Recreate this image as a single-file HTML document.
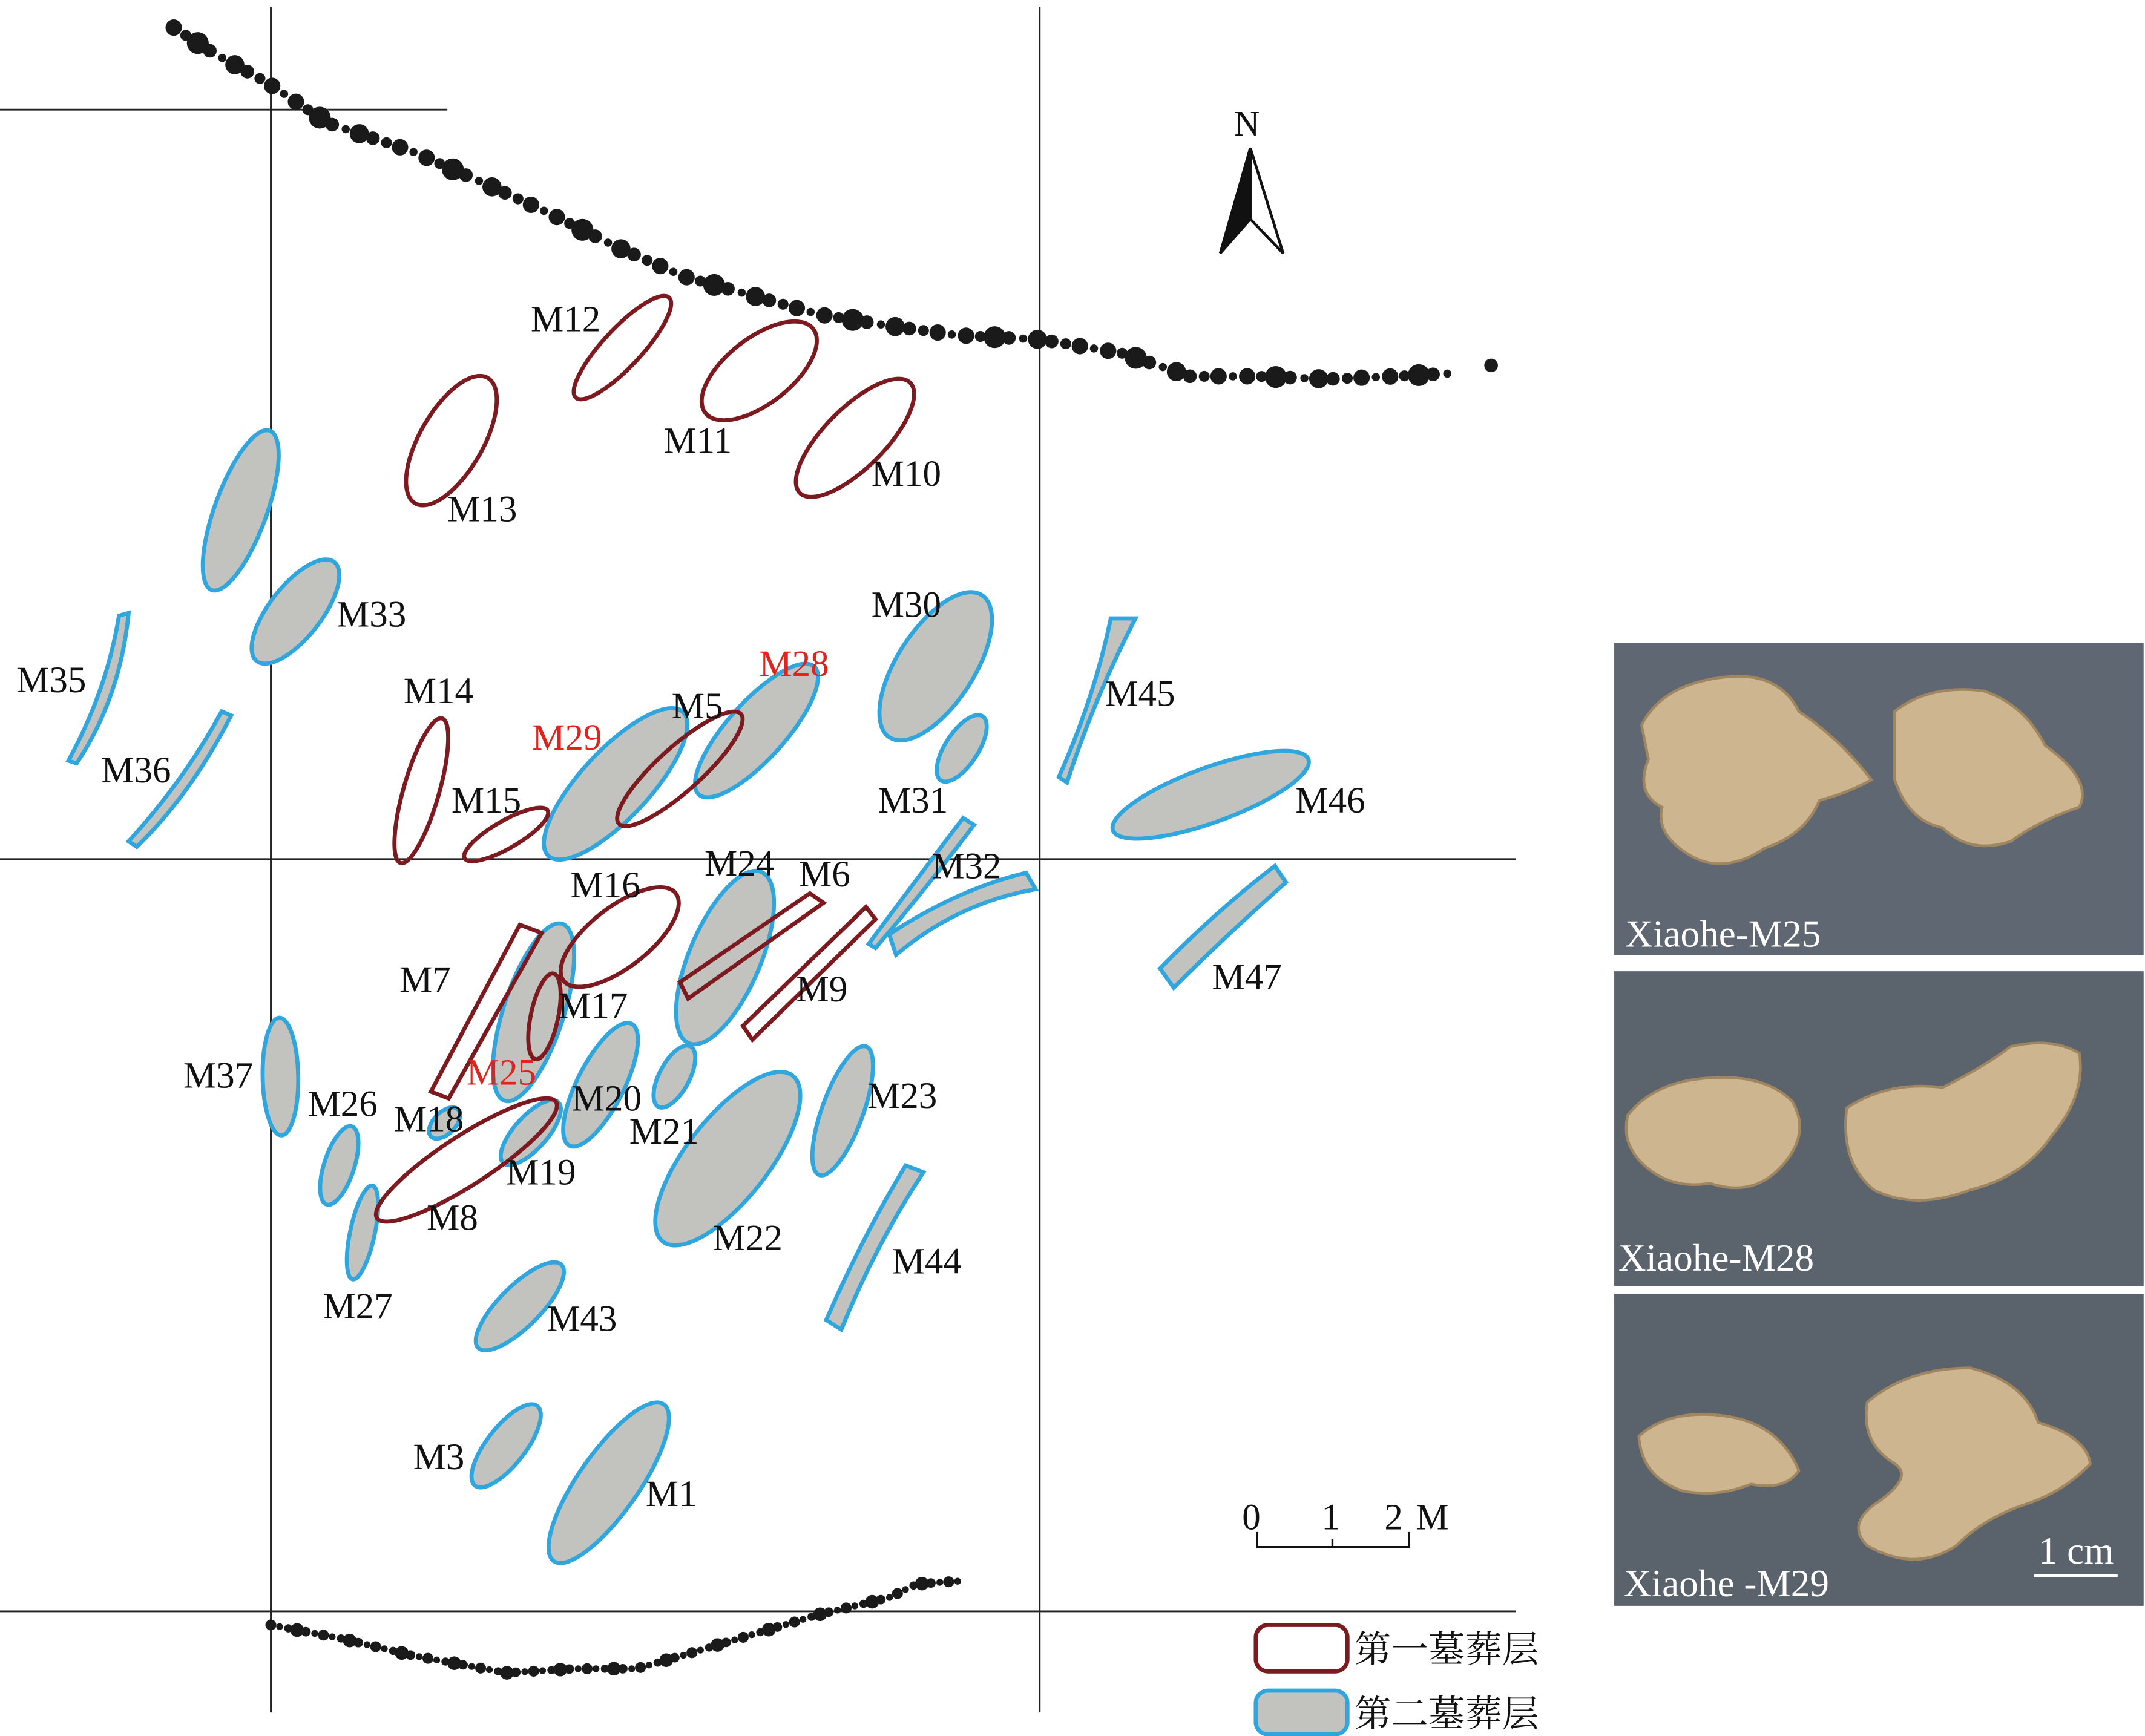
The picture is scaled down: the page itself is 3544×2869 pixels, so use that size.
<!DOCTYPE html>
<html><head><meta charset="utf-8"><style>
html,body{margin:0;padding:0;background:#fff}
svg{display:block}
text{font-family:"Liberation Serif","Noto Serif CJK SC",serif;font-size:27px;fill:#111}
.r{fill:none;stroke:#7d1a1f;stroke-width:3}
.b{fill:#c2c3be;stroke:#2fa6de;stroke-width:3}
.red{fill:#e0231c}
.w{fill:#fff;font-size:28px}
</style></head><body>
<svg width="3544" height="2869" viewBox="0 0 1568 1269" xmlns="http://www.w3.org/2000/svg">
<g stroke="#222" stroke-width="1.3">
<line x1="198" y1="5" x2="198" y2="1252"/><line x1="760" y1="5" x2="760" y2="1252"/>
<line x1="0" y1="80" x2="327" y2="80"/><line x1="0" y1="628" x2="1108" y2="628"/><line x1="0" y1="1178" x2="1108" y2="1178"/>
</g>
<g id="dots" fill="#1a1a1a"></g>
<!-- first layer & second layer -->
<ellipse class="b" cx="176" cy="373" rx="62" ry="19" transform="rotate(-70 176 373)"/>
<ellipse class="b" cx="216" cy="447" rx="46" ry="19" transform="rotate(-52 216 447)"/>
<path class="b" d="M50,556 Q78,505 87,450 L94,448 Q88,510 56,558 Z"/>
<path class="b" d="M94,615 Q135,570 162,520 L169,523 Q140,580 100,619 Z"/>
<ellipse class="b" cx="450" cy="573" rx="72" ry="25" transform="rotate(-47 450 573)"/>
<ellipse class="b" cx="553" cy="534" rx="63" ry="21" transform="rotate(-48 553 534)"/>
<ellipse class="b" cx="684" cy="487" rx="62" ry="28" transform="rotate(-57 684 487)"/>
<ellipse class="b" cx="703" cy="547" rx="28" ry="12" transform="rotate(-57 703 547)"/>
<path class="b" d="M774,568 Q800,510 812,452 L830,452 Q800,510 780,572 Z"/>
<ellipse class="b" cx="885" cy="581" rx="76" ry="20" transform="rotate(-20 885 581)"/>
<path class="b" d="M635,690 Q672,640 704,598 L712,603 Q675,652 640,693 Z"/>
<path class="b" d="M650,683 Q700,650 750,638 L757,650 Q700,660 655,698 Z"/>
<path class="b" d="M848,708 Q890,665 932,633 L940,645 Q895,685 858,722 Z"/>
<ellipse class="b" cx="530" cy="700" rx="68" ry="26" transform="rotate(-67 530 700)"/>
<ellipse class="b" cx="390" cy="740" rx="68" ry="22" transform="rotate(-72 390 740)"/>
<ellipse class="b" cx="439" cy="793" rx="50" ry="17" transform="rotate(-63 439 793)"/>
<ellipse class="b" cx="493" cy="787" rx="25" ry="11" transform="rotate(-62 493 787)"/>
<ellipse class="b" cx="205" cy="787" rx="43" ry="13" transform="rotate(-91 205 787)"/>
<ellipse class="b" cx="325" cy="821" rx="14" ry="8" transform="rotate(-45 325 821)"/>
<ellipse class="b" cx="388" cy="828" rx="30" ry="12" transform="rotate(-48 388 828)"/>
<ellipse class="b" cx="532" cy="847" rx="77" ry="30" transform="rotate(-52 532 847)"/>
<ellipse class="b" cx="616" cy="812" rx="50" ry="15" transform="rotate(-70 616 812)"/>
<ellipse class="b" cx="248" cy="852" rx="30" ry="11" transform="rotate(-72 248 852)"/>
<ellipse class="b" cx="265" cy="901" rx="35" ry="9" transform="rotate(-78 265 901)"/>
<path class="b" d="M604,965 Q630,905 662,852 L675,857 Q640,910 615,972 Z"/>
<ellipse class="b" cx="380" cy="955" rx="43" ry="15" transform="rotate(-45 380 955)"/>
<ellipse class="b" cx="370" cy="1057" rx="37" ry="14" transform="rotate(-52 370 1057)"/>
<ellipse class="b" cx="445" cy="1084" rx="70" ry="22" transform="rotate(-55 445 1084)"/>
<ellipse class="r" cx="455" cy="254" rx="50" ry="14" transform="rotate(-47 455 254)"/>
<ellipse class="r" cx="555" cy="271" rx="50" ry="24" transform="rotate(-38 555 271)"/>
<ellipse class="r" cx="625" cy="320" rx="57" ry="22" transform="rotate(-45 625 320)"/>
<ellipse class="r" cx="330" cy="322" rx="53" ry="23" transform="rotate(-60 330 322)"/>
<ellipse class="r" cx="308" cy="578" rx="55" ry="13" transform="rotate(-74 308 578)"/>
<ellipse class="r" cx="370" cy="610" rx="35" ry="10" transform="rotate(-30 370 610)"/>
<ellipse class="r" cx="497" cy="562" rx="60" ry="16" transform="rotate(-42 497 562)"/>
<ellipse class="r" cx="453" cy="685" rx="52" ry="22" transform="rotate(-38 453 685)"/>
<path class="r" d="M497,718 L592,653 L602,660 L503,730 Z"/>
<path class="r" d="M543,750 L633,663 L640,672 L550,760 Z"/>
<path class="r" d="M315,798 L380,676 L396,682 L328,803 Z"/>
<ellipse class="r" cx="398" cy="743" rx="32" ry="10" transform="rotate(-78 398 743)"/>
<ellipse class="r" cx="341" cy="848" rx="78" ry="18" transform="rotate(-33 341 848)"/>
<!-- labels -->
<text x="388" y="242">M12</text><text x="485" y="331">M11</text><text x="637" y="355">M10</text>
<text x="327" y="381">M13</text><text x="246" y="458">M33</text><text x="12" y="506">M35</text>
<text x="74" y="572">M36</text><text x="295" y="514">M14</text><text x="330" y="594">M15</text>
<text class="red" x="389" y="548">M29</text><text x="491" y="525">M5</text><text class="red" x="555" y="494">M28</text>
<text x="637" y="451">M30</text><text x="642" y="594">M31</text><text x="808" y="516">M45</text>
<text x="947" y="594">M46</text><text x="681" y="642">M32</text><text x="886" y="723">M47</text>
<text x="417" y="656">M16</text><text x="515" y="640">M24</text><text x="584" y="648">M6</text>
<text x="582" y="732">M9</text><text x="292" y="725">M7</text><text x="408" y="744">M17</text>
<text class="red" x="341" y="793">M25</text><text x="134" y="795">M37</text><text x="225" y="816">M26</text>
<text x="288" y="827">M18</text><text x="418" y="812">M20</text><text x="460" y="836">M21</text>
<text x="370" y="866">M19</text><text x="312" y="899">M8</text><text x="634" y="810">M23</text>
<text x="521" y="914">M22</text><text x="652" y="931">M44</text><text x="236" y="964">M27</text>
<text x="400" y="973">M43</text><text x="302" y="1074">M3</text><text x="472" y="1101">M1</text>
<!-- north arrow -->
<text x="902" y="99" style="font-size:26px">N</text>
<path d="M914,108 L892,185 L914,160 Z" fill="#111"/>
<path d="M914,108 L938,185 L914,160 Z" fill="#fff" stroke="#111" stroke-width="2"/>
<path d="M914,108 L892,185 L914,160 Z" fill="#111" stroke="#111" stroke-width="2"/>
<!-- scale -->
<text x="908" y="1118">0</text><text x="966" y="1118">1</text><text x="1012" y="1118">2</text><text x="1035" y="1118">M</text>
<path d="M919,1120 V1131 H1030 V1120 M974,1125 V1131" fill="none" stroke="#111" stroke-width="1.5"/>
<!-- legend -->
<rect x="918" y="1188" width="67" height="34" rx="9" fill="#fff" stroke="#7d1a1f" stroke-width="3"/>
<rect x="918" y="1236" width="67" height="32" rx="9" fill="#c2c3be" stroke="#2fa6de" stroke-width="3"/>
<text x="990" y="1215">第一墓葬层</text><text x="990" y="1262">第二墓葬层</text>
<!-- photos -->
<rect x="1180" y="470" width="387" height="228" fill="#5f6872"/>
<rect x="1180" y="710" width="387" height="230" fill="#5b636d"/>
<rect x="1180" y="946" width="387" height="228" fill="#5a626c"/>
<g fill="#cdb590" stroke="#a08660" stroke-width="2">
<path d="M1200,530 Q1215,500 1260,495 Q1300,490 1315,520 Q1345,540 1368,570 Q1350,580 1330,585 Q1320,610 1290,620 Q1260,640 1235,625 Q1210,610 1215,590 Q1195,580 1205,555 Z"/>
<path d="M1385,520 Q1410,500 1450,505 Q1480,515 1495,545 Q1530,570 1520,590 Q1490,600 1470,615 Q1440,625 1420,605 Q1395,600 1385,570 Z"/>
<path d="M1190,815 Q1210,790 1250,788 Q1290,785 1310,805 Q1325,830 1300,855 Q1280,875 1250,865 Q1220,870 1200,850 Q1185,835 1190,815 Z"/>
<path d="M1350,810 Q1380,790 1420,795 Q1450,780 1470,765 Q1500,758 1520,770 Q1525,800 1500,830 Q1480,860 1440,870 Q1400,885 1370,870 Q1345,850 1350,810 Z"/>
<path d="M1198,1050 Q1220,1030 1260,1035 Q1300,1040 1315,1075 Q1305,1090 1280,1085 Q1255,1095 1230,1090 Q1200,1080 1198,1050 Z"/>
<path d="M1365,1025 Q1395,1000 1440,1000 Q1480,1010 1490,1040 Q1525,1050 1528,1070 Q1510,1090 1480,1100 Q1450,1110 1430,1130 Q1400,1150 1365,1130 Q1350,1115 1370,1100 Q1400,1080 1385,1070 Q1360,1055 1365,1025 Z"/>
</g>
<text class="w" x="1188" y="692">Xiaohe-M25</text>
<text class="w" x="1183" y="929">Xiaohe-M28</text>
<text class="w" x="1187" y="1167">Xiaohe -M29</text>
<text class="w" x="1490" y="1143">1 cm</text>
<line x1="1487" y1="1152" x2="1548" y2="1152" stroke="#fff" stroke-width="2"/>
</svg>
<script>
(function(){
var g=document.getElementById('dots');
function seg(pts,n,rs){
  var out=[];var tot=0,L=[];
  for(var i=1;i<pts.length;i++){var d=Math.hypot(pts[i][0]-pts[i-1][0],pts[i][1]-pts[i-1][1]);L.push(d);tot+=d;}
  for(var k=0;k<n;k++){var t=tot*k/(n-1),j=0;while(j<L.length-1&&t>L[j]){t-=L[j];j++;}
    var f=Math.min(1,t/L[j]);var x=pts[j][0]+(pts[j+1][0]-pts[j][0])*f,y=pts[j][1]+(pts[j+1][1]-pts[j][1])*f;
    var r=rs[k%rs.length];
    var c=document.createElementNS('http://www.w3.org/2000/svg','circle');c.setAttribute('cx',x);c.setAttribute('cy',y);c.setAttribute('r',r);g.appendChild(c);}
}
seg([[127,20],[155,38],[195,60],[240,90],[300,110],[350,132],[400,155],[450,180],[500,202],[550,216],[600,230],[650,238],[700,245],[760,248],[820,258],[870,275],[920,275],[970,277],[1020,275],[1058,273]],95,[6,4,8,5,3,7,5,4,6,3]);
var c=document.createElementNS('http://www.w3.org/2000/svg','circle');c.setAttribute('cx',1090);c.setAttribute('cy',267);c.setAttribute('r',5);g.appendChild(c);
seg([[198,1188],[250,1198],[300,1210],[370,1223],[420,1220],[465,1220],[500,1210],[550,1195],[600,1180],[650,1168],[670,1158],[700,1156]],80,[4,2.5,3,5,3.5,2.5]);
})();
</script>
</body></html>
